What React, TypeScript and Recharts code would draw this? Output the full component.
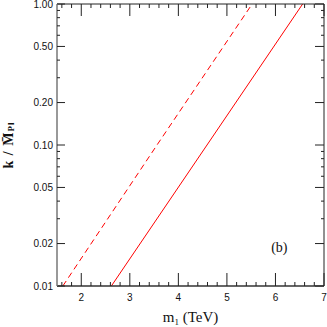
import React from 'react';
import {
  LineChart,
  Line,
  XAxis,
  YAxis,
  ReferenceDot,
} from 'recharts';

// curves (x in TeV, y = k / M_Pl)
const dashedX = [1.62, 3.56, 5.52];
const dashedY = [0.01, 0.1, 1.0];
const solidX = [2.62, 4.59, 6.56];
const solidY = [0.01, 0.1, 1.0];

const xTicks = [
  1.6, 1.8, 2, 2.2, 2.4, 2.6, 2.8, 3, 3.2, 3.4, 3.6, 3.8, 4, 4.2, 4.4, 4.6,
  4.8, 5, 5.2, 5.4, 5.6, 5.8, 6, 6.2, 6.4, 6.6, 6.8, 7,
];
const xMajor = [2, 3, 4, 5, 6, 7];
const yTicks = [
  0.01, 0.02, 0.03, 0.04, 0.05, 0.06, 0.07, 0.08, 0.09, 0.1, 0.2, 0.3, 0.4,
  0.5, 0.6, 0.7, 0.8, 0.9, 1,
];
const yMajor = [0.01, 0.02, 0.05, 0.1, 0.2, 0.5, 1];

const dashed = dashedX.map((x, i) => ({ x, y: dashedY[i] }));
const solid = solidX.map((x, i) => ({ x, y: solidY[i] }));

const tickFont = '"Liberation Sans Narrow", "Liberation Sans", Arial, sans-serif';
const serif = '"Liberation Serif", "DejaVu Serif", serif';
const ink = '#222';

const BottomTick = ({ x, y, payload }: any) => {
  const major = xMajor.includes(payload.value);
  return (
    <g>
      <line x1={x} x2={x} y1={y} y2={y - (major ? 13 : 4)} stroke={ink} />
      {major && (
        <text x={x} y={y} dy={14.5} textAnchor="middle" fontSize={10} fontFamily={tickFont} fill="#111">
          {payload.value}
        </text>
      )}
    </g>
  );
};

const TopTick = ({ x, y, payload }: any) => {
  const major = xMajor.includes(payload.value);
  return <line x1={x} x2={x} y1={y} y2={y + (major ? 12 : 4)} stroke={ink} />;
};

const LeftTick = ({ x, y, payload }: any) => {
  const major = yMajor.includes(payload.value);
  return (
    <g>
      <line x1={x + 4} x2={x + 4 + (major ? 8 : 3)} y1={y} y2={y} stroke={ink} />
      {major && (
        <text x={x} y={y} dy={3.5} textAnchor="end" fontSize={10} fontFamily={tickFont} fill="#111">
          {payload.value.toFixed(2)}
        </text>
      )}
    </g>
  );
};

const RightTick = ({ x, y, payload }: any) => {
  const major = yMajor.includes(payload.value);
  return <line x1={x} x2={x - (major ? 9 : 3)} y1={y} y2={y} stroke={ink} />;
};

const XTitle = ({ viewBox }: any) => (
  <text
    x={viewBox.x + viewBox.width / 2}
    y={viewBox.y + 36}
    textAnchor="middle"
    fontSize={15}
    fontFamily={serif}
    fill="#111"
  >
    m
    <tspan fontSize={9} dy={3}>1</tspan>
    <tspan dy={-3}>{'  (TeV)'}</tspan>
  </text>
);

const YTitle = ({ viewBox }: any) => (
  <text
    transform="rotate(-90)"
    x={-(viewBox.y + viewBox.height / 2)}
    y={13}
    textAnchor="middle"
    fontSize={14}
    fontWeight="bold"
    fontFamily={serif}
    letterSpacing={1}
    fill="#111"
  >
    {'k / M\u0304'}
    <tspan fontSize={9} dy={1}>Pl</tspan>
  </text>
);

export default function App() {
  return (
    <div style={{ position: 'absolute', left: 0, top: 0, background: '#fff' }}>
      <LineChart width={327} height={327} margin={{ top: 3, right: 2, left: 0, bottom: 0 }}>
        <XAxis
          dataKey="x"
          type="number"
          domain={[1.5, 7]}
          ticks={xTicks}
          interval={0}
          allowDataOverflow
          height={41}
          tickSize={0}
          tickMargin={0}
          tick={<BottomTick />}
          axisLine={{ stroke: '#333', strokeWidth: 1.5 }}
          tickLine={false}
          label={{ content: <XTitle /> }}
        />
        <XAxis
          xAxisId="top"
          orientation="top"
          dataKey="x"
          type="number"
          domain={[1.5, 7]}
          ticks={xTicks}
          interval={0}
          allowDataOverflow
          height={1}
          tickSize={0}
          tickMargin={0}
          tick={<TopTick />}
          axisLine={{ stroke: ink }}
          tickLine={false}
        />
        <YAxis
          type="number"
          scale="log"
          domain={[0.01, 1]}
          ticks={yTicks}
          interval={0}
          allowDataOverflow
          width={57}
          tickSize={0}
          tickMargin={4}
          tick={<LeftTick />}
          axisLine={{ stroke: '#999', strokeWidth: 2 }}
          tickLine={false}
          label={{ content: <YTitle /> }}
        />
        <YAxis
          yAxisId="right"
          orientation="right"
          type="number"
          scale="log"
          domain={[0.01, 1]}
          ticks={yTicks}
          interval={0}
          allowDataOverflow
          width={1}
          tickSize={0}
          tickMargin={0}
          tick={<RightTick />}
          axisLine={{ stroke: ink }}
          tickLine={false}
        />
        <Line
          data={dashed}
          dataKey="y"
          type="linear"
          stroke="#ff0000"
          strokeWidth={1}
          strokeDasharray="6 4"
          dot={false}
          isAnimationActive={false}
        />
        <Line
          data={solid}
          dataKey="y"
          type="linear"
          stroke="#ff0000"
          strokeWidth={1}
          dot={false}
          isAnimationActive={false}
        />
        {/* invisible copy so the mirrored frame axes have a series */}
        <Line
          xAxisId="top"
          yAxisId="right"
          data={solid}
          dataKey="y"
          type="linear"
          stroke="none"
          dot={false}
          activeDot={false}
          isAnimationActive={false}
        />
        <ReferenceDot
          x={6.08}
          y={0.019}
          r={0}
          fill="none"
          stroke="none"
          label={{ value: '(b)', position: 'center', fontSize: 14, fontFamily: serif, fill: '#111' }}
        />
      </LineChart>
    </div>
  );
}
